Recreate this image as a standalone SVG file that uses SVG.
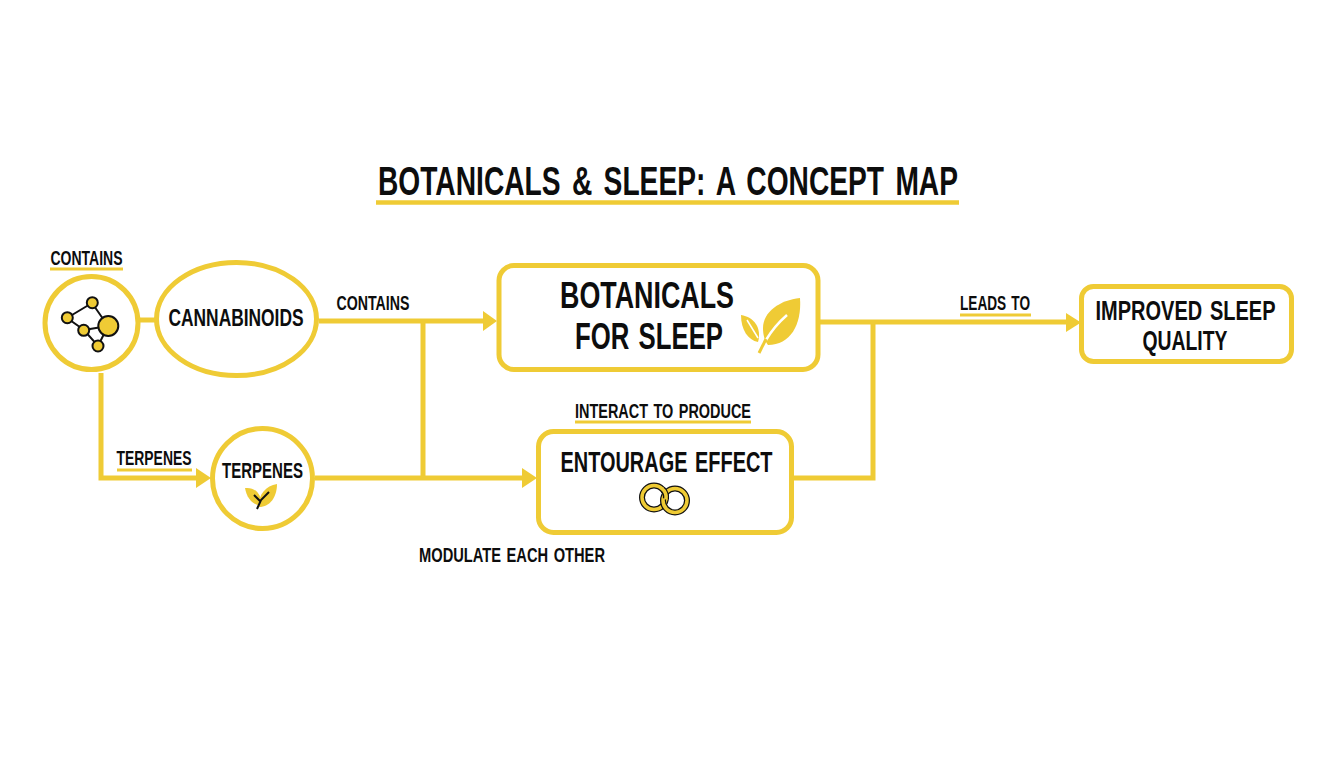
<svg xmlns="http://www.w3.org/2000/svg" width="1344" height="768" viewBox="0 0 1344 768">
<style>
text{font-family:"Liberation Sans Narrow","Liberation Sans",Arial,sans-serif;font-weight:700;fill:#0d0d0d;text-anchor:middle}
.n{fill:#fff;stroke:#efcb35;stroke-width:5}
.c{fill:none;stroke:#efcb35;stroke-width:5}
.u{stroke:#efcb35;stroke-width:3;fill:none}
.a{fill:#efcb35}
.m{fill:#efcb35;stroke:#111;stroke-width:2}
.b{stroke:#111;stroke-width:2;fill:none}
.l{font-size:20px;word-spacing:2px}
.rk{fill:none;stroke:#111;stroke-width:6}
.rg{fill:none;stroke:#efcb35;stroke-width:3.500}
</style>
<rect width="1344" height="768" fill="#fff"/>
<g id="title">
<text x="668" y="195" font-size="40" word-spacing="5" textLength="580" lengthAdjust="spacingAndGlyphs">BOTANICALS &amp; SLEEP: A CONCEPT MAP</text>
<path d="M376 202.500H959" stroke="#efcb35" stroke-width="4.500" fill="none"/>
</g>
<g id="connectors">
<path class="c" d="M140 320H155"/>
<path class="c" d="M319 321H485"/>
<path class="c" d="M423 321V478"/>
<path class="c" d="M315 478H525"/>
<path class="c" d="M101 373V478H198"/>
<path class="c" d="M820 322H1068"/>
<path class="c" d="M873 322V478H794"/>
<polygon class="a" points="483,311 497,321 483,331"/>
<polygon class="a" points="522,468 537,478 522,488"/>
<polygon class="a" points="196,468 211,478 196,488"/>
<polygon class="a" points="1066,313 1081,322.500 1066,332"/>
</g>
<g id="node-molecule">
<circle class="n" cx="91.500" cy="323" r="46.500"/>
<path class="b" d="M67 318L92 303L108 326L98 346L84 330L67 318M84 330L108 326"/>
<circle class="m" cx="92.300" cy="302.700" r="5.500"/>
<circle class="m" cx="67.300" cy="317.700" r="5.500"/>
<circle class="m" cx="83.700" cy="330.300" r="5.500"/>
<circle class="m" cx="98" cy="346" r="5.500"/>
<circle class="m" cx="108.300" cy="326" r="10"/>
</g>
<g id="node-cannabinoids">
<ellipse class="n" cx="236.500" cy="319" rx="80" ry="56.500"/>
<text x="236" y="326" font-size="24" textLength="135" lengthAdjust="spacingAndGlyphs">CANNABINOIDS</text>
</g>
<g id="node-terpenes">
<circle class="n" cx="262.500" cy="478.500" r="50"/>
<text x="262.500" y="478" font-size="22" textLength="81" lengthAdjust="spacingAndGlyphs">TERPENES</text>
<path class="a" d="M245 488C254 487 261 492 262 506C253 505 247 499 245 488Z"/>
<path class="a" d="M277 484C277 497 270 507 259 507C258 494 266 486 277 484Z"/>
<path class="b" d="M257 509L261 500L269 492M261 502L254 495"/>
</g>
<g id="node-botanicals">
<rect class="n" x="499" y="265.500" width="319" height="104" rx="15"/>
<text x="647" y="308" font-size="36" word-spacing="3" textLength="174" lengthAdjust="spacingAndGlyphs">BOTANICALS</text>
<text x="649" y="349" font-size="36" word-spacing="3" textLength="148" lengthAdjust="spacingAndGlyphs">FOR SLEEP</text>
<path class="a" d="M800 298C780 300 763 312 763 328C763 336 765 341 768 345C790 345 802 325 800 298Z"/>
<path class="a" d="M741 315C754 317 762 328 758 342C748 340 741 330 741 315Z"/>
<path d="M747 320L758 338" stroke="#fff" stroke-width="1.500" fill="none"/>
<path d="M766 340C772 330 779 322 787 315" stroke="#fff" stroke-width="2.500" fill="none"/>
<path d="M759 353L766 339" stroke="#efcb35" stroke-width="3" fill="none"/>
</g>
<g id="node-entourage">
<rect class="n" x="538.500" y="431.500" width="253" height="101" rx="15"/>
<text x="666.500" y="472" font-size="29" word-spacing="3" textLength="212" lengthAdjust="spacingAndGlyphs">ENTOURAGE EFFECT</text>
<circle class="rk" cx="654" cy="497.500" r="12"/>
<circle class="rg" cx="654" cy="497.500" r="12"/>
<circle class="rk" cx="675" cy="500.500" r="12"/>
<circle class="rg" cx="675" cy="500.500" r="12"/>
<path class="rk" d="M662.600 489.100A12 12 0 0 1 665.900 498.600"/>
<path class="rg" d="M661.800 488.400A12 12 0 0 1 666 499.500"/>
</g>
<g id="node-improved">
<rect class="n" x="1081.500" y="286.500" width="210" height="75" rx="12"/>
<text x="1185.500" y="320" font-size="27" word-spacing="3" textLength="180" lengthAdjust="spacingAndGlyphs">IMPROVED SLEEP</text>
<text x="1185" y="350" font-size="28" textLength="85" lengthAdjust="spacingAndGlyphs">QUALITY</text>
</g>
<g id="labels">
<text class="l" x="86.500" y="265" textLength="72" lengthAdjust="spacingAndGlyphs">CONTAINS</text>
<path class="u" d="M50 269H123"/>
<text class="l" x="154" y="465" textLength="75" lengthAdjust="spacingAndGlyphs">TERPENES</text>
<path class="u" d="M117 470H192"/>
<text class="l" x="373" y="310" textLength="73" lengthAdjust="spacingAndGlyphs">CONTAINS</text>
<text class="l" x="995" y="310" textLength="70" lengthAdjust="spacingAndGlyphs">LEADS TO</text>
<path class="u" d="M960 315H1031"/>
<text class="l" x="663" y="418" textLength="176" lengthAdjust="spacingAndGlyphs">INTERACT TO PRODUCE</text>
<path class="u" d="M575 422H751"/>
<text class="l" x="512" y="562" textLength="186" lengthAdjust="spacingAndGlyphs">MODULATE EACH OTHER</text>
</g>
</svg>
